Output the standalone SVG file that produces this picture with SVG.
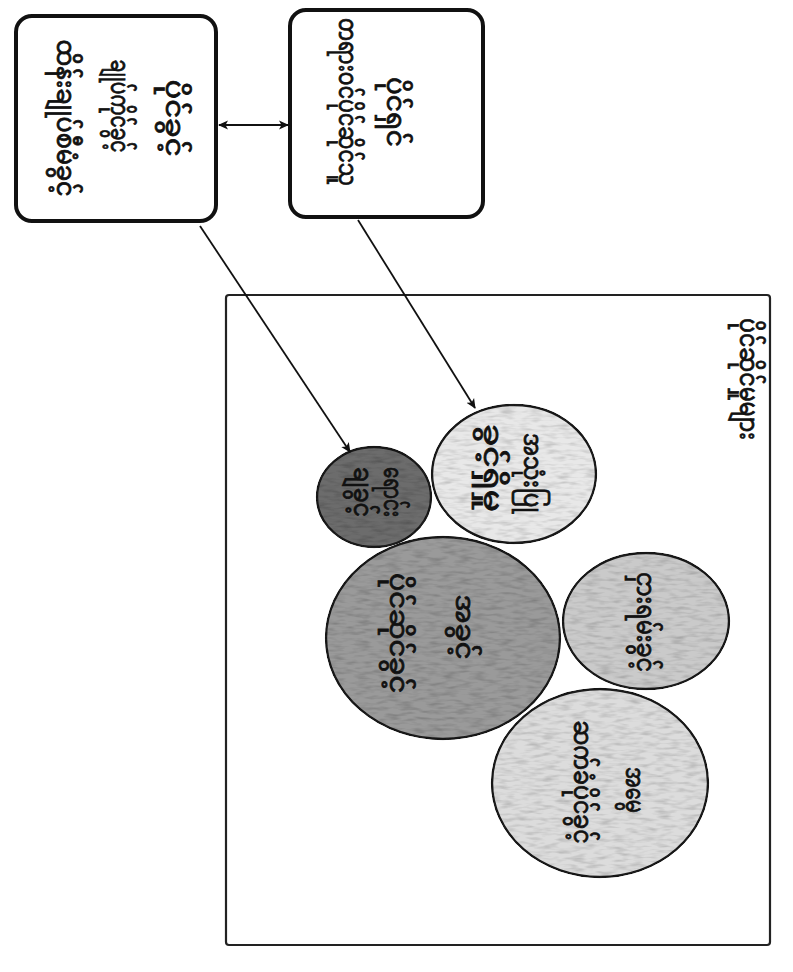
<svg xmlns="http://www.w3.org/2000/svg" width="793" height="972" viewBox="0 0 793 972">
<style>
.box{fill:#ffffff;stroke:#111;stroke-width:4}
.frame{fill:#ffffff;stroke:#222;stroke-width:2.2}
.circ{stroke:#1a1a1a;stroke-width:2.4}
.t{font-family:"Noto Sans Myanmar","Padauk","Myanmar Text","Noto Sans",sans-serif;font-size:26px;font-weight:normal;fill:#111;stroke:#111;stroke-width:0.8;text-anchor:middle;dominant-baseline:central}
.conn{stroke:#111;stroke-width:1.8;fill:none}
</style>
<defs>
<marker id="ah" viewBox="0 0 10 10" refX="9" refY="5" markerWidth="10" markerHeight="10" orient="auto-start-reverse" markerUnits="userSpaceOnUse">
<path d="M0,0.5 L10,5 L0,9.5 L2.5,5 Z" fill="#111"/>
</marker>
<filter id="grain" x="-5%" y="-5%" width="110%" height="110%">
<feTurbulence type="fractalNoise" baseFrequency="0.07 0.28" numOctaves="2" seed="7" result="n"/>
<feColorMatrix in="n" type="matrix" values="0 0 0 0 0  0 0 0 0 0  0 0 0 0 0  2.2 0 0 0 -0.95" result="m"/>
<feFlood flood-color="#000" flood-opacity="0.35"/>
<feComposite in2="m" operator="in" result="spots"/>
<feMerge><feMergeNode in="SourceGraphic"/><feMergeNode in="spots"/></feMerge>
<feComposite in2="SourceAlpha" operator="in"/>
</filter>
</defs>
<rect width="793" height="972" fill="#ffffff"/>

<g id="frame">
<rect class="frame" x="226" y="295" width="544" height="650" rx="3"/>
<text class="t" transform="translate(746,379) rotate(90)" textLength="122" lengthAdjust="spacingAndGlyphs">ပိုင်ဆိုင်မှုများ</text>
</g>

<g id="box-left">
<rect class="box" x="16" y="16" width="200" height="205" rx="16"/>
<text class="t" transform="translate(172,118) rotate(90)" textLength="77" lengthAdjust="spacingAndGlyphs">ပိုင်ခွင့်</text>
<text class="t" transform="translate(117,106) rotate(90)" textLength="93" lengthAdjust="spacingAndGlyphs">ချုပ်ကိုင်ခွင့်</text>
<text class="t" transform="translate(63,118) rotate(90)" textLength="157" lengthAdjust="spacingAndGlyphs">ထိန်းချုပ်စီမံခွင့်</text>
</g>

<g id="box-right">
<rect class="box" x="290" y="10" width="193" height="207" rx="16"/>
<text class="t" transform="translate(393,112) rotate(90)" textLength="70" lengthAdjust="spacingAndGlyphs">ပိုင်ရှင်</text>
<text class="t" transform="translate(345,102) rotate(90)" textLength="168" lengthAdjust="spacingAndGlyphs">တရားဝင်ပိုင်ဆိုင်သူ</text>
</g>

<g id="circle-dark">
<ellipse class="circ" cx="374" cy="497" rx="57" ry="50" fill="#6c6c6c" filter="url(#grain)"/>
<text class="t" transform="translate(390,492) rotate(90)" textLength="50" lengthAdjust="spacingAndGlyphs">ရောင်း</text>
<text class="t" transform="translate(360,492) rotate(90)" textLength="50" lengthAdjust="spacingAndGlyphs">ချခွင့်</text>
</g>

<g id="circle-top">
<ellipse class="circ" cx="514" cy="474" rx="82" ry="69" fill="#e8e8e8" filter="url(#grain)"/>
<text class="t" transform="translate(530,473) rotate(90)" textLength="80" lengthAdjust="spacingAndGlyphs">အသုံးပြု</text>
<text class="t" transform="translate(490,468) rotate(90)" textLength="88" lengthAdjust="spacingAndGlyphs">ခွင့်ရှိမှု</text>
</g>

<g id="circle-large">
<ellipse class="circ" cx="443" cy="638" rx="117" ry="101" fill="#9a9a9a" filter="url(#grain)"/>
<text class="t" transform="translate(462,627) rotate(90)" textLength="65" lengthAdjust="spacingAndGlyphs">အခွင့်</text>
<text class="t" transform="translate(396,633) rotate(90)" textLength="120" lengthAdjust="spacingAndGlyphs">ပိုင်ဆိုင်ခွင့်</text>
</g>

<g id="circle-mid">
<ellipse class="circ" cx="646" cy="621" rx="83" ry="68" fill="#cacaca" filter="url(#grain)"/>
<text class="t" transform="translate(643,622) rotate(90)" textLength="100" lengthAdjust="spacingAndGlyphs">ငှားရမ်းခွင့်</text>
</g>

<g id="circle-bottom">
<ellipse class="circ" cx="600" cy="783" rx="108" ry="94" fill="#dcdcdc" filter="url(#grain)"/>
<text class="t" transform="translate(632,790) rotate(90)" textLength="46" lengthAdjust="spacingAndGlyphs">အမွေ</text>
<text class="t" transform="translate(580,782) rotate(90)" textLength="123" lengthAdjust="spacingAndGlyphs">ဆက်ခံပိုင်ခွင့်</text>
</g>

<g id="connectors">
<line class="conn" x1="219" y1="125" x2="288" y2="125" marker-start="url(#ah)" marker-end="url(#ah)"/>
<line class="conn" x1="200" y1="226" x2="350" y2="452" marker-end="url(#ah)"/>
<line class="conn" x1="358" y1="220" x2="475" y2="408" marker-end="url(#ah)"/>
</g>
</svg>
